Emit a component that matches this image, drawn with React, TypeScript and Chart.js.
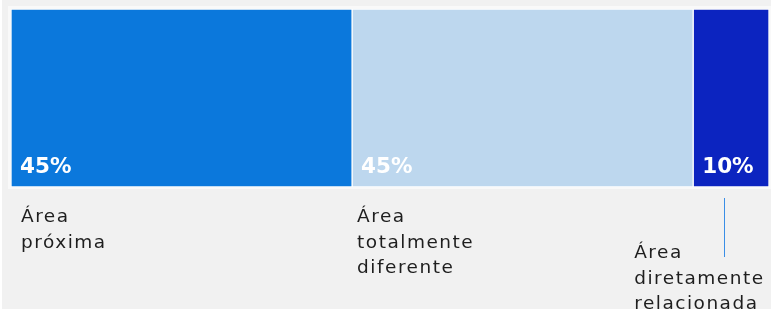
import React, { useEffect, useRef } from "react";
import { Chart, registerables } from "chart.js";

Chart.register(...registerables);

const categories = ["Área próxima", "Área totalmente diferente", "Área diretamente relacionada"];
const labelLines = [["Área", "próxima"], ["Área", "totalmente", "diferente"], ["Área", "diretamente", "relacionada"]];
const values = [45, 45, 10];
const colors = ["#0b78dc", "#bdd7ee", "#0c24c0"];

const FONT = "'DejaVu Sans', 'Open Sans', sans-serif";

const bgPlugin = {
  id: "bgPanel",
  beforeDraw(chart: any) {
    const { ctx, chartArea } = chart;
    ctx.save();
    ctx.fillStyle = "#f1f1f1";
    ctx.fillRect(2, 0, 769, chart.height);
    ctx.fillStyle = "rgba(255,255,255,0.55)";
    ctx.fillRect(chartArea.left - 3, chartArea.top - 3, chartArea.right - chartArea.left + 5, chartArea.bottom - chartArea.top + 5);
    ctx.restore();
  },
};

const labelPlugin = {
  id: "segLabels",
  afterDatasetsDraw(chart: any) {
    const { ctx } = chart;
    ctx.save();
    chart.data.datasets.forEach((ds: any, i: number) => {
      const el = chart.getDatasetMeta(i).data[0];
      if (!el) return;
      const left = Math.min(el.base, el.x);
      const right = Math.max(el.base, el.x);
      const bottom = el.y + el.height / 2;
      // value label
      ctx.fillStyle = "#ffffff";
      ctx.font = `bold 21.5px ${FONT}`;
      ctx.textAlign = "left";
      ctx.textBaseline = "alphabetic";
      (ctx as any).letterSpacing = "0px";
      ctx.fillText(`${ds.data[0]}%`, left + 9, bottom - 14);
      // category label
      ctx.fillStyle = "#1e1e1e";
      ctx.font = `18.5px ${FONT}`;
      (ctx as any).letterSpacing = "1.5px";
      const lines = labelLines[i];
      if (i < 2) {
        const x = left + (i === 0 ? 10 : 5);
        lines.forEach((ln, k) => ctx.fillText(ln, x, bottom + 35 + k * 25.5));
      } else {
        const lx = Math.round(left + (right - left) * 0.4) + 0.5;
        ctx.strokeStyle = "#3a8ee6";
        ctx.lineWidth = 1;
        ctx.beginPath();
        ctx.moveTo(lx, bottom + 11);
        ctx.lineTo(lx, bottom + 70);
        ctx.stroke();
        const x = left - 59;
        lines.forEach((ln, k) => ctx.fillText(ln, x, bottom + 71 + k * 25.5));
      }
    });
    ctx.restore();
  },
};

export default function App() {
  const ref = useRef<HTMLCanvasElement | null>(null);
  useEffect(() => {
    document.body.style.margin = "0";
    const canvas = ref.current!;
    const chart = new Chart(canvas, {
      type: "bar",
      data: {
        labels: ["Total"],
        datasets: categories.map((c, i) => ({
          label: c,
          data: [values[i]],
          backgroundColor: colors[i],
          borderColor: "#ffffff",
          borderWidth: 1,
          borderSkipped: false,
          categoryPercentage: 1,
          barPercentage: 1,
        })),
      },
      options: {
        indexAxis: "y",
        responsive: false,
        animation: false,
        maintainAspectRatio: false,
        layout: { padding: { left: 11, right: 8, top: 9, bottom: 122 } },
        scales: {
          x: { stacked: true, min: 0, max: 100, display: false },
          y: { stacked: true, display: false },
        },
        plugins: { legend: { display: false }, tooltip: { enabled: false } },
      },
      plugins: [bgPlugin, labelPlugin],
    } as any);
    return () => chart.destroy();
  }, []);
  return (
    <div style={{ width: 777, height: 309 }}>
      <canvas ref={ref} width={777} height={309} style={{ display: "block" }} />
    </div>
  );
}
